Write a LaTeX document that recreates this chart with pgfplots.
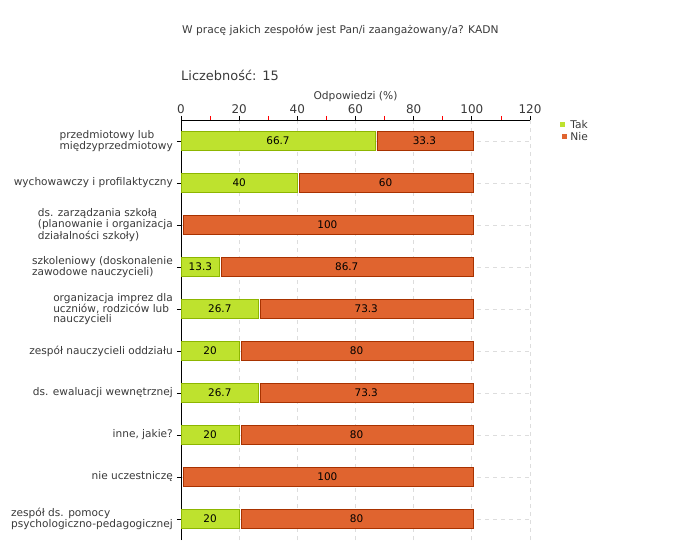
\documentclass[border=0pt]{standalone}
\usepackage{pgfplots}
\pgfplotsset{compat=1.18}
\usepackage{pgfplotstable}
\usepackage{fontspec}
\setmainfont{DejaVu Sans}
\definecolor{takfill}{HTML}{BEE22E}
\definecolor{takdraw}{HTML}{8DB600}
\definecolor{niefill}{HTML}{E0642F}
\definecolor{niedraw}{HTML}{A83200}
\definecolor{txt}{HTML}{3A3A3A}
\definecolor{gridc}{HTML}{DDDDDD}
\pgfplotstableread{
y tak nie taklab nielab
9 66.7 33.3 66.7 33.3
8 40 60 40 60
7 0 100 {} 100
6 13.3 86.7 13.3 86.7
5 26.7 73.3 26.7 73.3
4 20 80 20 80
3 26.7 73.3 26.7 73.3
2 20 80 20 80
1 0 100 {} 100
0 20 80 20 80
}\data
\pgfplotsset{
  geom/.style={at={(181bp,20bp)}, anchor=south west,
    scale only axis, width=349bp, height=420bp,
    xmin=0, xmax=120, ymin=-0.5, ymax=9.5},
}
\begin{document}
\begin{tikzpicture}
\useasboundingbox (0bp,0bp) rectangle (680bp,560bp);
\node[anchor=west, text=txt, font=\fontsize{10.7}{11}\selectfont, inner sep=0] at (182bp,530bp) {W pracę jakich zespołów jest Pan/i zaangażowany/a? KADN};
\node[anchor=west, text=txt, font=\fontsize{13}{13}\selectfont, inner sep=0] at (181bp,485bp) {Liczebność:\hspace{6bp}15};
\begin{axis}[
  geom,
  xbar stacked, bar width=19bp,
  axis x line*=top, axis y line*=left,
  axis line style={black, line width=0.8bp},
  tick align=outside,
  major tick length=4bp, minor tick length=4bp,
  xtick={0,20,...,120},
  minor xtick={10,30,...,110},
  minor tick style={red, line width=0.8bp},
  major tick style={black, line width=0.8bp},
  ytick style={black, line width=0.8bp},
  ytick={0,...,9},
  yticklabels={
    {zespół ds. pomocy\\psychologiczno-pedagogicznej},
    {nie uczestniczę},
    {inne, jakie?},
    {ds. ewaluacji wewnętrznej},
    {zespół nauczycieli oddziału},
    {organizacja imprez dla\\uczniów, rodziców lub\\nauczycieli},
    {szkoleniowy (doskonalenie\\zawodowe nauczycieli)},
    {ds. zarządzania szkołą\\(planowanie i organizacja\\działalności szkoły)},
    {wychowawczy i profilaktyczny},
    {przedmiotowy lub\\międzyprzedmiotowy}},
  yticklabel style={align=left, text=txt, font=\fontsize{10.6}{10}\selectfont, inner sep=0bp, xshift=-4bp},
  xticklabel style={text=txt, font=\fontsize{12}{12}\selectfont, inner sep=2bp},
  /pgf/number format/assume math mode=true,
  xlabel={Odpowiedzi (\%)},
  xlabel style={text=txt, font=\fontsize{10.7}{11}\selectfont, inner sep=1bp},
  xmajorgrids, ymajorgrids,
  grid style={gridc, dash pattern=on 4bp off 4bp, line width=0.8bp},
  legend style={at={(1.085,1.005)}, anchor=north west, draw=none, fill=none,
    font=\fontsize{10.7}{11}\selectfont, text=txt, row sep=-1.5bp, inner sep=0pt,
    legend cell align=left, nodes={inner xsep=3bp}},
  legend image code/.code={\fill[#1, draw=none] (0bp,-2.5bp) rectangle (5.5bp,3bp);},
]
\addplot[fill=takfill, draw=takdraw, line width=0.8bp]
  table[x=tak, y=y] {\data};
\addlegendentry{Tak}
\addplot[fill=niefill, draw=niedraw, line width=0.8bp, xshift=2bp]
  table[x=nie, y=y] {\data};
\addlegendentry{Nie}
\end{axis}
\begin{axis}[geom, hide axis,
  nodes near coords, point meta=explicit symbolic,
  nodes near coords style={anchor=center, text=black, font=\fontsize{10.5}{11}\selectfont, inner sep=0pt}]
\addplot[draw=none, mark=none]
  table[x expr=\thisrow{tak}/2, y=y, meta=taklab] {\data};
\addplot[draw=none, mark=none, xshift=1bp]
  table[x expr=\thisrow{tak}+\thisrow{nie}/2, y=y, meta=nielab] {\data};
\end{axis}
\end{tikzpicture}
\end{document}
